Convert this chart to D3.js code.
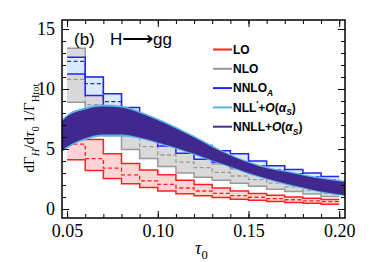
<!DOCTYPE html>
<html>
<head>
<meta charset="utf-8">
<script src="https://cdn.jsdelivr.net/npm/d3@7"></script>
<style>
body{margin:0;background:#fff;}
</style>
</head>
<body>
<div id="chart"></div>
<script>
// bin edges in tau0 (15 bins of width 0.01)
var tauEdges=[0.05,0.06,0.07,0.08,0.09,0.10,0.11,0.12,0.13,0.14,0.15,0.16,0.17,0.18,0.19,0.20];
// fixed order histograms: lower / central / upper per bin
var loLow =[4.1,3.2,2.55,2.1,1.8,1.5,1.28,1.1,0.95,0.82,0.72,0.63,0.55,0.47,0.4];
var loMid =[5.4,4.2,3.4,2.85,2.35,2.05,1.75,1.5,1.3,1.12,0.98,0.87,0.77,0.68,0.62];
var loHigh=[6.3,5.8,4.6,3.8,3.25,2.85,2.4,2.05,1.75,1.5,1.3,1.15,1.0,0.9,0.8];
var nloLow =[8.9,7.0,6.1,4.95,4.2,3.55,3.0,2.65,2.4,2.15,1.9,1.65,1.45,1.25,1.05];
var nloMid =[10.8,8.7,7.3,6.1,5.2,4.5,3.9,3.45,3.05,2.75,2.45,2.15,1.85,1.55,1.3];
var nloHigh=[13.4,11.0,9.2,7.7,6.5,5.6,4.85,4.25,3.75,3.35,3.0,2.7,2.4,2.1,1.85];
var nnloLow =[11.25,9.45,8.3,7.2,6.2,5.25,4.65,4.15,3.9,3.5,3.15,2.85,2.55,2.3,2.08];
var nnloMid =[12.3,10.45,8.95,7.85,6.85,6.0,5.35,4.8,4.35,3.95,3.6,3.25,2.95,2.68,2.42];
var nnloHigh=[12.65,11.0,9.6,8.45,7.4,6.6,5.9,5.3,4.85,4.6,4.0,3.6,3.3,3.0,2.7];
// resummed bands
var bandTau=[0.0472,0.05,0.06,0.07,0.08,0.09,0.10,0.11,0.12,0.13,0.14,0.15,0.16,0.17,0.18,0.19,0.2032];
var nllTop=[7.45,7.85,8.45,8.7,8.6,8.15,7.55,6.85,6.1,5.3,4.55,3.95,3.5,3.2,2.9,2.62,2.35];
var nllBot=[4.75,5.05,5.75,6.05,6.05,5.85,5.45,5.0,4.5,3.95,3.45,2.9,2.45,2.05,1.7,1.38,1.08];
var nnllTop=[7.3,7.7,8.3,8.55,8.45,8.0,7.4,6.7,5.95,5.15,4.45,3.85,3.4,3.1,2.8,2.52,2.25];
var nnllBot=[4.9,5.2,5.9,6.2,6.2,5.95,5.55,5.1,4.6,4.05,3.55,3.0,2.55,2.15,1.8,1.45,1.15];
// axes
var xTicks=[0.05,0.10,0.15,0.20];
var xTickLabels=['0.05','0.10','0.15','0.20'];
var yTicks=[0,5,10,15];
var yTickLabels=['0','5','10','15'];
// legend
var legendColors=['#ff2020','#999999','#2323ff','#5ab4ea','#4a2a96'];
var legendLabels=[
    [['LO','']],
    [['NLO','']],
    [['NNLO',''],['A','subit']],
    [['NLL',''],['\u2032','sup'],['+',''],['O','it'],['(',''],['\u03b1','it'],['S','subit'],[')','']],
    [['NNLL+',''],['O','it'],['(',''],['\u03b1','it'],['S','subit'],[')','']]
];

var W=374,H=262;
var x=d3.scaleLinear().domain([0.0472,0.2032]).range([62,345]);
var y=d3.scaleLinear().domain([-0.75,15.75]).range([218,20]);

var svg=d3.select('#chart').append('svg')
    .attr('width',W).attr('height',H)
    .style('font-family','"Liberation Serif",serif');

svg.append('defs').append('clipPath').attr('id','plotclip')
    .append('rect').attr('x',62).attr('y',20).attr('width',283).attr('height',198);
var plot=svg.append('g').attr('clip-path','url(#plotclip)');

function steps(vals){
    var p=vals.map(function(v,i){return [tauEdges[i],v];});
    p.push([tauEdges[tauEdges.length-1],vals[vals.length-1]]);
    return p;
}
var stepLine=d3.line().x(function(d){return x(d[0]);}).y(function(d){return y(d[1]);}).curve(d3.curveStepAfter);
var stepArea=d3.area().x(function(d){return x(d[0]);})
    .y0(function(d){return y(d[1]);}).y1(function(d){return y(d[2]);})
    .curve(d3.curveStepAfter);

function hist(low,mid,high,col,fill){
    var lo=steps(low),hi=steps(high);
    var ab=lo.map(function(d,i){return [d[0],d[1],hi[i][1]];});
    plot.append('path').attr('d',stepArea(ab)).style('fill',fill).style('stroke','none');
    [low,high].forEach(function(v){
        plot.append('path').attr('d',stepLine(steps(v)))
            .style('fill','none').style('stroke',col).style('stroke-width',1.5);
    });
    plot.append('path').attr('d',stepLine(steps(mid)))
        .style('fill','none').style('stroke',col).style('stroke-width',1.3)
        .style('stroke-dasharray','4,2.5');
}
hist(loLow,loMid,loHigh,'#ff2020','#ffd4d4');
hist(nloLow,nloMid,nloHigh,'#999999','#d9d9d9');
hist(nnloLow,nnloMid,nnloHigh,'#2323ff','#dbeaff');

function band(top,bot,col){
    var a=d3.area().x(function(d,i){return x(bandTau[i]);})
        .y0(function(d,i){return y(bot[i]);}).y1(function(d,i){return y(top[i]);})
        .curve(d3.curveMonotoneX);
    plot.append('path').attr('d',a(top)).style('fill',col).style('stroke','none');
}
band(nllTop,nllBot,'#5ab4ea');
band(nnllTop,nnllBot,'#40288f');

// axes, ticks pointing inward
var xMinor=d3.range(5,21).map(function(k){return k/100;});
var yMinor=d3.range(0,16);
function ax(gen,tr,vals,size,labels){
    var a=gen(tr.s).tickValues(vals).tickSizeInner(-size).tickSizeOuter(0).tickPadding(6);
    if(labels) a.tickFormat(function(d,i){return labels[i];}); else a.tickFormat('');
    var g=svg.append('g').attr('transform',tr.t).call(a);
    g.select('.domain').remove();
    g.selectAll('line').style('stroke','#000').style('stroke-width',1);
    g.selectAll('text').style('font-family','"Liberation Serif",serif').style('font-size','18px').style('fill','#000');
    return g;
}
ax(d3.axisBottom,{s:x,t:'translate(0,218)'},xMinor,4,null);
ax(d3.axisBottom,{s:x,t:'translate(0,218)'},xTicks,7,xTickLabels);
ax(d3.axisTop,{s:x,t:'translate(0,20)'},xMinor,4,null);
ax(d3.axisTop,{s:x,t:'translate(0,20)'},xTicks,7,null);
ax(d3.axisLeft,{s:y,t:'translate(62,0)'},yMinor,4,null);
ax(d3.axisLeft,{s:y,t:'translate(62,0)'},yTicks,7,yTickLabels).selectAll('text').attr('dx',-1).attr('dy','0.33em');
ax(d3.axisRight,{s:y,t:'translate(345,0)'},yMinor,4,null);
ax(d3.axisRight,{s:y,t:'translate(345,0)'},yTicks,7,null);

svg.append('rect').attr('x',62).attr('y',20).attr('width',283).attr('height',198)
    .style('fill','none').style('stroke','#000').style('stroke-width',1.5);

// panel tag
var tag=svg.append('text').attr('y',45).style('font-family','"Liberation Sans",Arial,sans-serif')
    .style('font-size','17px').style('fill','#000');
tag.append('tspan').attr('x',74).text('(b)');
tag.append('tspan').attr('x',110).text('H');
tag.append('tspan').attr('x',122).attr('textLength',31).attr('lengthAdjust','spacingAndGlyphs').text('\u27f6');
tag.append('tspan').attr('x',153).text('gg');

// rich text helper
function rich(t,parts,base){
    var shift=0;
    parts.forEach(function(p){
        var s=t.append('tspan').text(p[0]);
        var target=0;
        if(p[1]=='sub'||p[1]=='subit'){target=base*0.3;s.style('font-size',(base*0.7)+'px');}
        if(p[1]=='sup'){target=-base*0.4;s.style('font-size',(base*0.7)+'px');}
        if(p[1]=='it'||p[1]=='subit')s.style('font-style','italic');
        if(target!=shift){s.attr('dy',target-shift);shift=target;}
    });
}

// legend
var leg=svg.append('g');
legendLabels.forEach(function(parts,i){
    var ly=49.5+i*19.3;
    leg.append('line').attr('x1',213).attr('x2',232).attr('y1',ly).attr('y2',ly)
        .style('stroke',legendColors[i]).style('stroke-width',2);
    var t=leg.append('text').attr('x',233).attr('y',ly+4.3)
        .style('font-family','"Liberation Sans",Arial,sans-serif')
        .style('font-weight','bold').style('font-size','12px').style('fill','#000');
    rich(t,parts,12);
});

// axis titles
var yl=svg.append('text').attr('transform','translate(34,128) rotate(-90)')
    .attr('text-anchor','middle').style('font-size','15px').style('fill','#000');
rich(yl,[['d\u0393',''],['H','subit'],['/d',''],['\u03c4','it'],['0','sub'],[' 1/\u0393',''],['Htot','sub']],15);

var xl=svg.append('text').attr('x',195).attr('y',254).style('font-size','18px').style('fill','#000');
rich(xl,[['\u03c4','it'],['0','sub']],18);
</script>
</body>
</html>
